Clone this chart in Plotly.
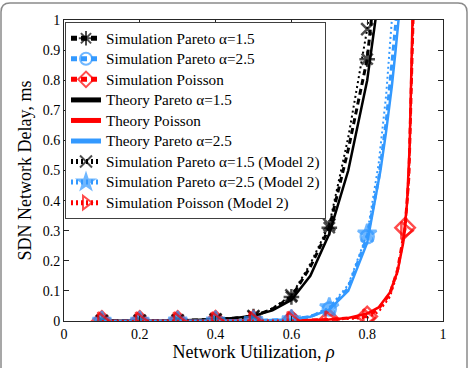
import plotly.graph_objects as go

# ---------------- data ----------------
rho_sim15 = [0.1, 0.2, 0.3, 0.4, 0.5, 0.55, 0.6, 0.65, 0.7, 0.75, 0.8, 0.815]
d_sim15 = [0.0005, 0.001, 0.002, 0.005, 0.015, 0.04, 0.08, 0.18, 0.31, 0.57, 0.87, 1.05]

rho_sim25 = [0.1, 0.2, 0.3, 0.4, 0.5, 0.6, 0.65, 0.7, 0.75, 0.8, 0.83, 0.85, 0.87, 0.88]
d_sim25 = [0.0002, 0.0003, 0.0005, 0.001, 0.002, 0.005, 0.015, 0.04, 0.11, 0.28, 0.47, 0.66, 0.92, 1.05]

rho_simP = [0.1, 0.2, 0.3, 0.4, 0.5, 0.6, 0.7, 0.8, 0.83, 0.86, 0.88, 0.9, 0.91, 0.917, 0.922]
d_simP = [0.0001, 0.0002, 0.0003, 0.0005, 0.001, 0.002, 0.005, 0.015, 0.04, 0.09, 0.17, 0.31, 0.48, 0.78, 1.05]

rho_th15 = [0.1, 0.2, 0.3, 0.4, 0.45, 0.5, 0.55, 0.6, 0.65, 0.7, 0.75, 0.8, 0.825]
d_th15 = [0.0005, 0.001, 0.002, 0.006, 0.010, 0.017, 0.035, 0.07, 0.15, 0.29, 0.50, 0.80, 1.03]

rho_thP = [0.1, 0.2, 0.3, 0.4, 0.5, 0.6, 0.7, 0.75, 0.8, 0.83, 0.86, 0.88, 0.895, 0.905, 0.912, 0.916, 0.92]
d_thP = [0.0001, 0.0002, 0.0003, 0.0005, 0.001, 0.002, 0.005, 0.01, 0.025, 0.045, 0.095, 0.165, 0.26, 0.39, 0.58, 0.78, 1.03]

rho_th25 = [0.1, 0.2, 0.3, 0.4, 0.5, 0.6, 0.65, 0.7, 0.75, 0.8, 0.82, 0.835, 0.85, 0.865, 0.875, 0.885]
d_th25 = [0.0002, 0.0003, 0.0005, 0.001, 0.002, 0.005, 0.014, 0.038, 0.10, 0.26, 0.39, 0.50, 0.63, 0.78, 0.90, 1.03]

rho_m2_15 = [0.1, 0.2, 0.3, 0.4, 0.5, 0.55, 0.6, 0.65, 0.7, 0.75, 0.8, 0.81]
d_m2_15 = [0.0005, 0.001, 0.002, 0.005, 0.016, 0.042, 0.085, 0.19, 0.32, 0.61, 0.97, 1.08]

rho_m2_25 = [0.1, 0.2, 0.3, 0.4, 0.5, 0.6, 0.65, 0.7, 0.75, 0.8, 0.83, 0.85, 0.862, 0.868]
d_m2_25 = [0.0002, 0.0003, 0.0005, 0.001, 0.002, 0.005, 0.016, 0.045, 0.12, 0.29, 0.52, 0.75, 0.93, 1.05]

rho_m2_P = [0.1, 0.2, 0.3, 0.4, 0.5, 0.6, 0.7, 0.8, 0.83, 0.86, 0.88, 0.9, 0.91, 0.917, 0.922]
d_m2_P = [0.0001, 0.0002, 0.0003, 0.0005, 0.001, 0.002, 0.004, 0.01, 0.03, 0.08, 0.16, 0.30, 0.47, 0.77, 1.05]

x_ticks = [0, 0.2, 0.4, 0.6, 0.8, 1]
x_ticklabels = ["0", "0.2", "0.4", "0.6", "0.8", "1"]
y_ticks = [0, 0.1, 0.2, 0.3, 0.4, 0.5, 0.6, 0.7, 0.8, 0.9, 1]
y_ticklabels = ["0", "0.1", "0.2", "0.3", "0.4", "0.5", "0.6", "0.7", "0.8", "0.9", "1"]

# ---------------- style ----------------
BLACK = "#000000"
BLUE = "#3399ff"
RED = "#ff0000"
SERIF = "Liberation Serif, Times New Roman, serif"

# plot area in pixels
W, H = 470, 368
L, R, T, B = 64, 443, 20, 323


def sizes(xs, s):
    # markers only at the simulated points (multiples of 0.1)
    return [s if abs(round(v * 10) - v * 10) < 1e-9 else 0 for v in xs]


def leg(name):
    return f'<span style="font-size:15.2px">{name}</span>'


fig = go.Figure()

sim_specs = [
    ("Simulation Pareto α=1.5", rho_sim15, d_sim15, BLACK, "asterisk-open", 13, "6px,4px", 3),
    ("Simulation Pareto α=2.5", rho_sim25, d_sim25, BLUE, "circle-open", 13, "6px,4px", 3),
    ("Simulation Poisson", rho_simP, d_simP, RED, "diamond-open", 15, "6px,4px", 3),
]
for name, xs, ys, col, sym, ms, dash, lw in sim_specs:
    fig.add_trace(go.Scatter(
        x=xs, y=ys, name=leg(name), mode="lines+markers",
        line=dict(color=col, width=lw, dash=dash),
        marker=dict(symbol=sym, size=sizes(xs, ms), color=col,
                    line=dict(color=col, width=2.5)),
    ))

th_specs = [
    ("Theory Pareto α=1.5", rho_th15, d_th15, BLACK),
    ("Theory Poisson", rho_thP, d_thP, RED),
    ("Theory Pareto α=2.5", rho_th25, d_th25, BLUE),
]
for name, xs, ys, col in th_specs:
    fig.add_trace(go.Scatter(
        x=xs, y=ys, name=leg(name), mode="lines",
        line=dict(color=col, width=2.5),
    ))

m2_specs = [
    ("Simulation Pareto α=1.5 (Model 2)", rho_m2_15, d_m2_15, BLACK, "x-thin-open", 12),
    ("Simulation Pareto α=2.5 (Model 2)", rho_m2_25, d_m2_25, BLUE, "star", 14),
    ("Simulation Poisson (Model 2)", rho_m2_P, d_m2_P, RED, "triangle-right-open", 15),
]
for name, xs, ys, col, sym, ms in m2_specs:
    fig.add_trace(go.Scatter(
        x=xs, y=ys, name=leg(name), mode="lines+markers",
        line=dict(color=col, width=2, dash="2px,3px"),
        marker=dict(symbol=sym, size=sizes(xs, ms), color=col,
                    line=dict(color=col, width=2.5)),
    ))


def px(xp):
    return (xp - L) / (R - L)


def py(yp):
    return (B - yp) / (B - T)


# outer rounded frame (partly cropped at the bottom)
x0, x1, y0, y1, rr = 1, 467, 3, 380, 9
path = (f"M {px(x0)},{py(y1)} L {px(x0)},{py(y0 + rr)} "
        f"Q {px(x0)},{py(y0)} {px(x0 + rr)},{py(y0)} "
        f"L {px(x1 - rr)},{py(y0)} Q {px(x1)},{py(y0)} {px(x1)},{py(y0 + rr)} "
        f"L {px(x1)},{py(y1)}")
fig.add_shape(type="path", path=path, xref="paper", yref="paper",
              line=dict(color="#8a8a8a", width=1.5), layer="above")

axis_common = dict(
    showgrid=False, zeroline=False, showline=True, linecolor="#262626", linewidth=1,
    mirror="ticks", ticks="inside", ticklen=5, tickcolor="#262626",
    tickfont=dict(family=SERIF, size=14, color="black"),
)

fig.update_layout(
    width=W, height=H,
    margin=dict(l=L, r=W - R, t=T, b=H - B),
    paper_bgcolor="white", plot_bgcolor="white",
    xaxis=dict(range=[0, 1], tickvals=x_ticks, ticktext=x_ticklabels,
               title=dict(text="Network Utilization, <i>ρ</i>",
                          font=dict(family=SERIF, size=18, color="black"), standoff=2),
               **axis_common),
    yaxis=dict(range=[0, 1], tickvals=y_ticks, ticktext=y_ticklabels,
               title=dict(text="SDN Network Delay, ms",
                          font=dict(family=SERIF, size=18, color="black"), standoff=6),
               **axis_common),
    legend=dict(x=px(65), y=py(22), xanchor="left", yanchor="top",
                bgcolor="white", bordercolor="#404040", borderwidth=1,
                font=dict(family=SERIF, size=13.5, color="black"),
                itemsizing="constant", tracegroupgap=0),
    showlegend=True,
)

fig.write_html("out.html")
